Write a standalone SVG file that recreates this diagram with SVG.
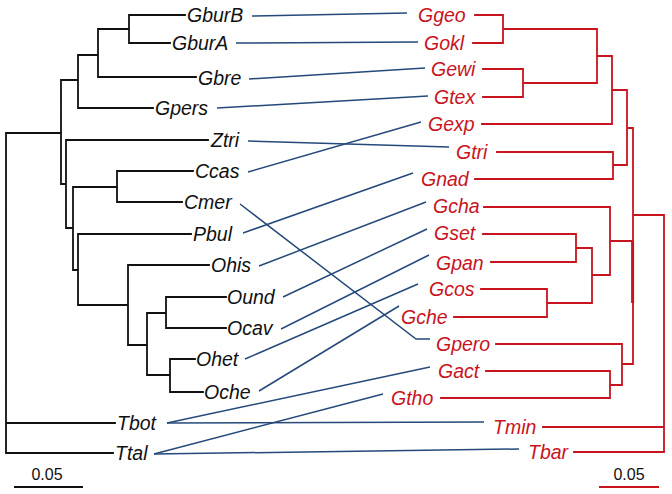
<svg xmlns="http://www.w3.org/2000/svg" width="672" height="494" viewBox="0 0 672 494">
<style>
.lt{fill:none;stroke:#111;stroke-width:1.8;stroke-linecap:square}
.rt{fill:none;stroke:#c8141e;stroke-width:1.8;stroke-linecap:square}
.cn{fill:none;stroke:#24497a;stroke-width:1.5}
text{font-family:"Liberation Sans",Arial,sans-serif;font-size:19.5px;font-style:italic}
.l{fill:#111}
.r{fill:#c8141e}
.sc{font-style:normal;font-size:16px;fill:#111;text-anchor:middle}
</style>
<rect width="672" height="494" fill="#fff"/>
<g id="left-tree">
<path class="lt" d="M6,133V453M6,133H61M6,423H115M6,453H113
M61,80V184M61,80H78M61,184H66
M78,55V108M78,55H98M78,108H153
M98,29V77M98,29H129M98,77H196
M129,15V43M129,15H185M129,43H170
M66,140V228M66,140H208M66,228H73
M73,187V270M73,187H117M73,270H78
M117,171V202M117,171H193M117,202H182
M78,234V305M78,234H191M78,305H128
M128,265V345M128,265H209M128,345H147
M147,313V375M147,313H166M147,375H170
M166,297V328M166,297H226M166,328H226
M170,359V392M170,359H195M170,392H203"/>
</g>
<g id="right-tree">
<path class="rt" d="M475,15H503M473,43H503M503,15V43M503,29H597
M483,69H523M483,97H523M523,69V97M523,83H597
M597,29V83M597,56H612
M482,124H612M612,56V124M612,90H627
M497,152H613M475,179H613M613,152V179M613,165H627
M627,90V165M627,128H633
M633,128V363M633,215H664
M484,207H610M610,207V275M610,241H632
M483,234H576M491,262H576M576,234V262M576,248H592
M481,289H547M454,317H547M547,289V317M547,303H592
M592,248V303M592,275H610
M496,344H622M622,344V385M622,364H633
M486,371H610M441,398H610M610,371V398M610,385H622
M543,427H664M574,452H664M664,215V452"/>
<path d="M632.6,241V303" fill="none" stroke="#c8141e" stroke-width="3"/>
</g>
<g id="connectors">
<path class="cn" d="M252,16L407,13"/>
<path class="cn" d="M236,43L418,42"/>
<path class="cn" d="M249,79L425,68"/>
<path class="cn" d="M217,108L428,96"/>
<path class="cn" d="M248,141L449,147"/>
<path class="cn" d="M248,172L421,122"/>
<path class="cn" d="M240,204L416,339H430"/>
<path class="cn" d="M243,233L413,173"/>
<path class="cn" d="M259,266L426,202"/>
<path class="cn" d="M283,297L427,229"/>
<path class="cn" d="M281,329L429,255"/>
<path class="cn" d="M245,359L418,284"/>
<path class="cn" d="M259,391L399,306"/>
<path class="cn" d="M167,423L430,367"/>
<path class="cn" d="M167,423L484,422"/>
<path class="cn" d="M154,454L383,394"/>
<path class="cn" d="M154,454L519,449"/>
</g>
<g id="GburB"><text class="l" x="187" y="22">GburB</text></g>
<g id="GburA"><text class="l" x="172" y="50">GburA</text></g>
<g id="Gbre"><text class="l" x="198" y="85">Gbre</text></g>
<g id="Gpers"><text class="l" x="155" y="115">Gpers</text></g>
<g id="Ztri"><text class="l" x="211" y="147">Ztri</text></g>
<g id="Ccas"><text class="l" x="195" y="178">Ccas</text></g>
<g id="Cmer"><text class="l" x="184" y="209">Cmer</text></g>
<g id="Pbul"><text class="l" x="193" y="241">Pbul</text></g>
<g id="Ohis"><text class="l" x="211" y="272">Ohis</text></g>
<g id="Ound"><text class="l" x="227" y="304">Ound</text></g>
<g id="Ocav"><text class="l" x="227" y="335">Ocav</text></g>
<g id="Ohet"><text class="l" x="196" y="366">Ohet</text></g>
<g id="Oche"><text class="l" x="204" y="399">Oche</text></g>
<g id="Tbot"><text class="l" x="117" y="430">Tbot</text></g>
<g id="Ttal"><text class="l" x="115" y="460">Ttal</text></g>
<g id="Ggeo"><text class="r" x="418" y="22">Ggeo</text></g>
<g id="Gokl"><text class="r" x="424" y="50">Gokl</text></g>
<g id="Gewi"><text class="r" x="431" y="76">Gewi</text></g>
<g id="Gtex"><text class="r" x="434" y="104">Gtex</text></g>
<g id="Gexp"><text class="r" x="428" y="131">Gexp</text></g>
<g id="Gtri"><text class="r" x="456" y="159">Gtri</text></g>
<g id="Gnad"><text class="r" x="421" y="186">Gnad</text></g>
<g id="Gcha"><text class="r" x="433" y="213">Gcha</text></g>
<g id="Gset"><text class="r" x="434" y="240">Gset</text></g>
<g id="Gpan"><text class="r" x="436" y="270">Gpan</text></g>
<g id="Gcos"><text class="r" x="429" y="296">Gcos</text></g>
<g id="Gche"><text class="r" x="401" y="324">Gche</text></g>
<g id="Gpero"><text class="r" x="436" y="351">Gpero</text></g>
<g id="Gact"><text class="r" x="438" y="378">Gact</text></g>
<g id="Gtho"><text class="r" x="391" y="405">Gtho</text></g>
<g id="Tmin"><text class="r" x="493" y="434">Tmin</text></g>
<g id="Tbar"><text class="r" x="528" y="459">Tbar</text></g>
<g id="scale-left"><path d="M14,487H83" stroke="#111" stroke-width="1.8"/><text class="sc" x="47" y="480">0.05</text></g>
<g id="scale-right"><path d="M599,487H659" stroke="#c8141e" stroke-width="1.8"/><text class="sc" x="629" y="480">0.05</text></g>
</svg>
